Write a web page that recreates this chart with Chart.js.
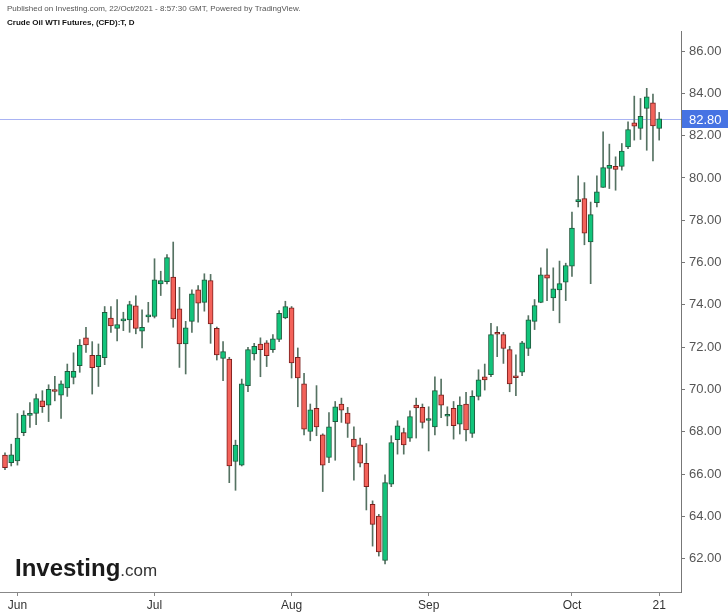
<!DOCTYPE html>
<html>
<head>
<meta charset="utf-8">
<script src="https://cdn.jsdelivr.net/npm/chart.js@4.4.0/dist/chart.umd.min.js"></script>
<style>
  html, body { margin: 0; padding: 0; background: #fff; }
  #wrap { width: 728px; height: 615px; }
</style>
</head>
<body>
<div id="wrap"><canvas id="mainChart" width="728" height="615"></canvas></div>
<script>
// ── Daily candles, 27 May → 21 Oct 2021 ──
const openP = [
  66.90, 66.54, 66.62, 67.96, 68.77, 68.86, 69.46, 69.26, 69.94, 69.73,
  70.07, 70.57, 71.12, 72.44, 71.61, 71.08, 71.50, 73.37, 72.89, 73.24,
  73.29, 73.95, 72.75, 73.43, 73.45, 74.99, 75.10, 75.31, 73.81, 72.15,
  73.22, 74.71, 74.12, 75.15, 72.89, 71.47, 71.44, 66.59, 66.42, 70.18,
  71.68, 72.15, 72.20, 71.88, 72.36, 73.38, 73.86, 71.52, 70.26, 68.01,
  69.10, 67.85, 66.78, 68.48, 69.31, 68.88, 67.65, 67.38, 66.51, 64.57,
  64.01, 61.91, 65.52, 67.62, 67.96, 67.70, 69.26, 69.15, 68.53, 68.23,
  69.75, 68.73, 69.10, 68.36, 69.31, 67.92, 69.67, 70.60, 70.70, 72.65,
  72.59, 71.88, 70.59, 70.81, 71.94, 73.22, 74.12, 75.42, 74.33, 74.71,
  75.07, 75.83, 78.88, 79.02, 76.97, 78.83, 79.55, 80.45, 80.55, 80.55,
  81.47, 82.61, 82.34, 83.29, 83.55, 82.34
];
const highP = [
  67.00, 67.41, 68.86, 68.99, 69.38, 69.78, 69.94, 70.22, 70.62, 70.41,
  71.20, 71.73, 72.36, 72.94, 72.26, 72.15, 73.92, 73.92, 74.25, 73.65,
  74.17, 74.43, 73.76, 74.12, 76.18, 75.59, 76.38, 76.97, 74.83, 73.22,
  74.71, 74.91, 75.47, 75.44, 72.95, 72.26, 71.52, 67.60, 70.49, 71.99,
  72.18, 72.44, 72.31, 72.59, 73.73, 74.17, 73.92, 71.96, 70.76, 69.31,
  70.18, 67.90, 68.91, 69.43, 69.59, 69.15, 68.23, 67.70, 67.44, 64.73,
  64.09, 65.96, 67.81, 68.52, 68.17, 68.99, 69.59, 69.31, 69.18, 70.60,
  70.49, 69.18, 69.43, 69.65, 69.86, 69.94, 70.93, 71.20, 73.13, 72.97,
  72.70, 72.04, 71.64, 72.27, 73.49, 74.25, 75.75, 76.65, 75.75, 76.07,
  75.97, 78.39, 80.10, 79.78, 78.86, 80.10, 82.18, 81.60, 81.00, 81.63,
  82.65, 83.87, 83.76, 84.24, 83.97, 83.10
];
const lowP = [
  66.20, 66.38, 66.42, 67.81, 68.20, 68.33, 68.91, 68.48, 69.46, 68.63,
  69.67, 70.26, 70.81, 71.75, 69.78, 70.14, 71.17, 72.70, 72.29, 72.78,
  72.70, 72.63, 71.96, 73.18, 73.38, 74.44, 74.99, 72.94, 71.04, 70.73,
  72.70, 73.18, 73.70, 72.18, 71.39, 70.41, 65.59, 65.23, 66.38, 69.89,
  71.39, 70.60, 71.08, 71.75, 72.26, 73.34, 70.54, 69.18, 67.85, 67.57,
  67.81, 65.17, 66.54, 66.65, 68.44, 67.73, 65.71, 66.34, 64.30, 62.59,
  62.12, 61.75, 65.40, 66.94, 66.94, 67.54, 67.70, 68.17, 67.09, 67.85,
  68.67, 68.28, 67.65, 67.89, 67.57, 67.73, 69.50, 69.97, 70.60, 71.55,
  71.23, 69.89, 69.70, 70.65, 71.60, 72.83, 74.10, 74.20, 73.73, 73.15,
  74.20, 75.34, 78.63, 76.84, 75.00, 78.63, 79.55, 79.50, 79.42, 80.37,
  81.39, 81.79, 81.82, 81.31, 80.81, 81.79
];
const closeP = [
  66.30, 66.91, 67.70, 68.79, 68.81, 69.57, 69.19, 70.00, 69.90, 70.27,
  70.85, 70.85, 72.10, 72.10, 71.03, 71.61, 73.65, 73.00, 73.07, 73.28,
  74.01, 72.89, 72.94, 73.47, 75.18, 75.15, 76.23, 73.34, 72.15, 72.91,
  74.52, 74.08, 75.18, 73.10, 71.63, 71.79, 66.38, 67.37, 70.26, 71.88,
  72.04, 71.88, 71.60, 72.39, 73.60, 73.92, 71.25, 70.54, 68.12, 69.04,
  68.23, 66.42, 68.23, 69.18, 69.02, 68.39, 67.28, 66.51, 65.40, 63.62,
  62.31, 65.59, 67.49, 68.28, 67.38, 68.72, 69.12, 68.44, 68.57, 69.94,
  69.26, 68.77, 68.28, 69.26, 68.08, 69.67, 70.45, 70.45, 72.59, 72.61,
  71.94, 70.26, 70.55, 72.20, 73.29, 73.97, 75.42, 75.26, 74.76, 75.00,
  75.86, 77.63, 78.92, 77.39, 78.27, 79.34, 80.49, 80.60, 80.40, 81.27,
  82.29, 82.45, 82.92, 83.84, 82.46, 82.80
];

// x-axis labels sit on these candle indices
const tickIdx  = [2, 24, 46, 68, 91, 105];
const tickText = ['Jun', 'Jul', 'Aug', 'Sep', 'Oct', '21'];

const lastPrice = 82.80;

// ── Colours ───────────────────────────────────
const UP = '#12c47b', UP_EDGE = '#1f5a3d';
const DN = '#f3625a', DN_EDGE = '#7d1e1c';
const WICK = '#557262';

const idx = closeP.map((_, i) => i);
const rising = closeP.map((c, i) => c >= openP[i]);

// ── Overlay: header, logo, last price line/tag ─
const overlay = {
  id: 'overlay',
  beforeDatasetsDraw(c) {
    const ctx = c.ctx, a = c.chartArea;
    const y = Math.round(c.scales.y.getPixelForValue(lastPrice)) + 0.5;
    ctx.save();
    ctx.strokeStyle = '#a9b3f3';
    ctx.lineWidth = 1;
    ctx.beginPath();
    ctx.moveTo(a.left, y);
    ctx.lineTo(a.right, y);
    ctx.stroke();
    ctx.restore();
  },
  afterDraw(c) {
    const ctx = c.ctx, a = c.chartArea;
    ctx.save();
    ctx.textBaseline = 'alphabetic';
    ctx.textAlign = 'left';
    ctx.fillStyle = '#555';
    ctx.font = '8px "Liberation Sans", Arial, sans-serif';
    ctx.fillText('Published on Investing.com, 22/Oct/2021 - 8:57:30 GMT, Powered by TradingView.', 7, 11);
    ctx.fillStyle = '#111';
    ctx.font = 'bold 8px "Liberation Sans", Arial, sans-serif';
    ctx.fillText('Crude Oil WTI Futures, (CFD):T, D', 7, 25);

    // logo
    ctx.fillStyle = '#1a1a1a';
    ctx.font = 'bold 24px "Liberation Sans", Arial, sans-serif';
    ctx.fillText('Investing', 15, 576);
    const w = ctx.measureText('Investing').width;
    ctx.fillStyle = '#333';
    ctx.font = '17px "Liberation Sans", Arial, sans-serif';
    ctx.fillText('.com', 15 + w, 576);

    // last price tag
    const y = Math.round(c.scales.y.getPixelForValue(lastPrice));
    ctx.fillStyle = '#4673e3';
    ctx.fillRect(a.right + 1, y - 9, 728 - a.right - 1, 18);
    ctx.fillStyle = '#fff';
    ctx.font = '13px "Liberation Sans", Arial, sans-serif';
    ctx.textBaseline = 'middle';
    ctx.fillText(lastPrice.toFixed(2), a.right + 8, y + 1);
    ctx.restore();
  }
};

new Chart(document.getElementById('mainChart'), {
  type: 'bar',
  data: {
    datasets: [{
      label: 'Wick',
      data: idx.map(i => ({ x: i, y: [lowP[i], highP[i]] })),
      backgroundColor: WICK,
      barThickness: 1,
      grouped: false,
      order: 2
    }, {
      label: 'Body',
      data: idx.map(i => ({ x: i, y: [openP[i], closeP[i]] })),
      backgroundColor: ctx => rising[ctx.dataIndex] ? UP : DN,
      borderColor: ctx => rising[ctx.dataIndex] ? UP_EDGE : DN_EDGE,
      borderWidth: 1,
      borderSkipped: false,
      barThickness: 5,
      minBarLength: 2,
      grouped: false,
      order: 1
    }]
  },
  options: {
    responsive: false,
    animation: false,
    layout: { padding: { top: 31, left: 0, right: 0, bottom: 0 } },
    plugins: { legend: { display: false }, tooltip: { enabled: false } },
    scales: {
      x: {
        type: 'linear',
        min: -0.8,
        max: 108.5,
        offset: false,
        afterBuildTicks: s => { s.ticks = tickIdx.map(v => ({ value: v })); },
        afterFit: s => { s.height = 23; },
        ticks: {
          autoSkip: false,
          maxRotation: 0,
          padding: 2,
          color: '#333',
          font: { family: '"Liberation Sans Narrow", "Liberation Sans", Arial', size: 12 },
          callback: v => tickText[tickIdx.indexOf(v)]
        },
        grid: { offset: false, drawOnChartArea: false, drawTicks: true, tickLength: 4, color: '#888' },
        border: { color: '#888' }
      },
      y: {
        position: 'right',
        min: 60.42,
        max: 86.95,
        afterFit: s => { s.width = 47; },
        ticks: {
          stepSize: 2,
          includeBounds: false,
          padding: 4,
          color: '#555',
          font: { family: '"Liberation Sans", Arial', size: 13 },
          callback: v => v.toFixed(2)
        },
        grid: { drawOnChartArea: false, drawTicks: true, tickLength: 4, color: '#777' },
        border: { color: '#777' }
      }
    }
  },
  plugins: [overlay]
});
</script>
</body>
</html>
